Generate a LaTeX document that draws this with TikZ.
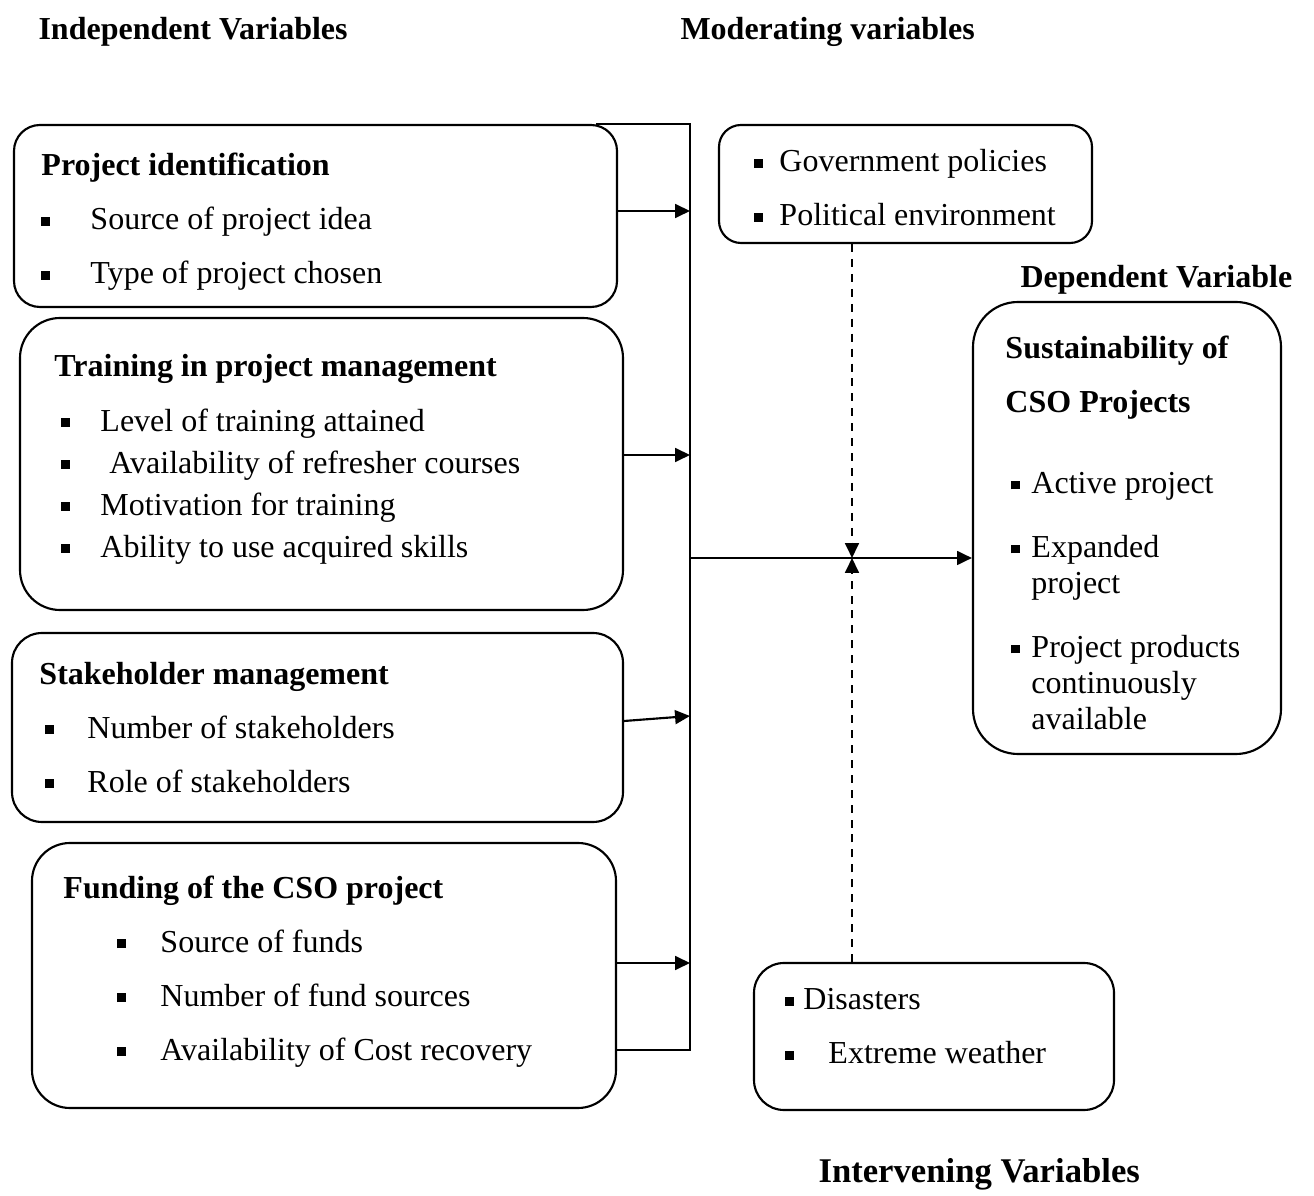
\documentclass[tikz,border=0pt]{standalone}
\usepackage{fontspec}
\setmainfont{Liberation Serif}
\usetikzlibrary{arrows.meta,calc}
\newlength\px
\setlength\px{0.375pt}
\newcommand\sqmark{\rule[1.6pt]{3.3pt}{3.3pt}}
\newcommand\itm[2]{\makebox[#1][l]{\sqmark}#2}
\tikzset{
  box/.style={draw, line width=0.8pt, inner sep=0pt, rounded corners=#1},
  txt/.style={anchor=west, inner sep=0pt, align=left, font=\fontsize{12}{15.75}\selectfont},
  title/.style={anchor=west, inner sep=0pt, font=\fontsize{12}{14}\selectfont\bfseries},
  line/.style={line width=0.8pt},
  arrow/.style={line, -{Triangle[length=5.6pt,width=5.2pt]}},
  darrow/.style={arrow, dash pattern=on 3pt off 2.6pt}
}

\begin{document}
\begin{tikzpicture}[x=0.375pt, y=-0.375pt]
  \useasboundingbox (0,0) rectangle (1314,1196);

  % headings
  \node[title] (indep) at (38,32) {Independent Variables};
  \node[title] (moder) at (680,32) {Moderating variables};
  \node[title] (depend) at (1020,280) {Dependent Variable};
  \node[title, font=\fontsize{13}{15}\selectfont\bfseries] (interv) at (818,1174) {Intervening Variables};

  % independent variables
  \node[box=26\px, minimum width=603\px, minimum height=182\px] (idn) at (315.5,216) {};
  \node[txt] (idnT) at ([xshift=28\px, yshift=-6\px]idn.west) {\textbf{Project identification}\\[4.5pt]
    \itm{49\px}{Source of project idea}\\[4.5pt]
    \itm{49\px}{Type of project chosen}};

  \node[box=40\px, minimum width=603\px, minimum height=292\px] (trn) at (321.5,464) {};
  \node[txt] (trnT) at ([xshift=35\px, yshift=5\px]trn.west) {\textbf{Training in project management}\\[4.9pt]
    \hspace*{7\px}\itm{39\px}{Level of training attained}\\
    \hspace*{7\px}\itm{48\px}{Availability of refresher courses}\\
    \hspace*{7\px}\itm{39\px}{Motivation for training}\\
    \hspace*{7\px}\itm{39\px}{Ability to use acquired skills}};

  \node[box=30\px, minimum width=611\px, minimum height=189\px] (stk) at (317.5,727.5) {};
  \node[txt] (stkT) at ([xshift=28\px]stk.west) {\textbf{Stakeholder management}\\[4.5pt]
    \hspace*{6\px}\itm{42\px}{Number of stakeholders}\\[4.5pt]
    \hspace*{6\px}\itm{42\px}{Role of stakeholders}};

  \node[box=38\px, minimum width=584\px, minimum height=265\px] (fnd) at (324,975.5) {};
  \node[txt] (fndT) at ([xshift=32\px, yshift=4\px]fnd.west) {\textbf{Funding of the CSO project}\\[4.5pt]
    \hspace*{54\px}\itm{43\px}{Source of funds}\\[4.5pt]
    \hspace*{54\px}\itm{43\px}{Number of fund sources}\\[4.5pt]
    \hspace*{54\px}\itm{43\px}{Availability of Cost recovery}};

  % moderating, intervening, dependent
  \node[box=22\px, minimum width=373\px, minimum height=118\px] (mod) at (905.5,184) {};
  \node[txt] (modT) at ([xshift=36\px, yshift=-4\px]mod.west) {\itm{25\px}{Government policies}\\[4.5pt]
    \itm{25\px}{Political environment}};

  \node[box=30\px, minimum width=360\px, minimum height=147\px] (itv) at (934,1036.5) {};
  \node[txt] (itvT) at ([xshift=32\px, yshift=10\px]itv.west) {\itm{18\px}{Disasters}\\[4.5pt]
    \itm{43\px}{Extreme weather}};

  \node[box=45\px, minimum width=308\px, minimum height=452\px] (dep) at (1127,528) {};
  \node[txt, font=\fontsize{12}{13.5}\selectfont] (depT) at ([xshift=33\px, yshift=-5\px]dep.west) {\textbf{Sustainability of}\\[6.75pt]
    \textbf{CSO Projects}\\[16.9pt]
    \hspace*{6\px}\itm{20\px}{Active project}\\[10.5pt]
    \hspace*{6\px}\itm{20\px}{Expanded}\\
    \hspace*{26\px}project\\[10.5pt]
    \hspace*{6\px}\itm{20\px}{Project products}\\
    \hspace*{26\px}continuously\\
    \hspace*{26\px}available};

  % connectors
  \coordinate (busbot) at (690,1050);
  \coordinate (mid) at (852,558);

  \draw[line] ($(idn.north east)+(-22,0)$) -| (busbot) -- (fnd.east |- busbot);
  \draw[arrow] ([yshift=5\px]idn.east) -- ([yshift=5\px]idn.east -| busbot);
  \draw[arrow] ([yshift=9\px]trn.east) -- ([yshift=9\px]trn.east -| busbot);
  \draw[arrow] ([yshift=6.5\px]stk.east) -- ([yshift=11.5\px]stk.east -| busbot);
  \draw[arrow] ([yshift=12.5\px]fnd.east) -- ([yshift=12.5\px]fnd.east -| busbot);
  \draw[arrow] (busbot |- mid) -- (dep.west |- mid);
  \draw[darrow] (mod.south -| mid) -- (mid);
  \draw[darrow] (itv.north -| mid) -- (mid);
\end{tikzpicture}
\end{document}
